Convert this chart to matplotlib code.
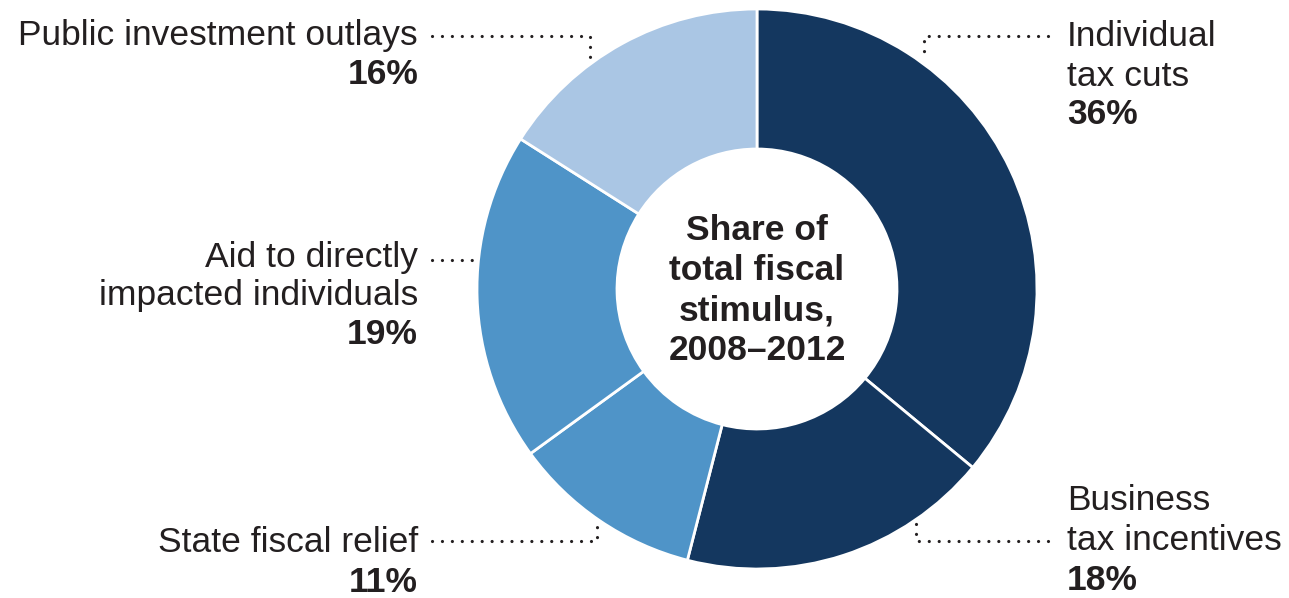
import matplotlib.pyplot as plt

# data
labels = ["Individual tax cuts", "Business tax incentives", "State fiscal relief",
          "Aid to directly impacted individuals", "Public investment outlays"]
shares = [36, 18, 11, 19, 16]
colors = ["#14375f", "#14375f", "#4f94c8", "#4f94c8", "#aac6e4"]

W, H = 1289, 598
plt.rcParams["font.family"] = ["Liberation Sans", "DejaVu Sans"]
ink = "#231f20"

fig = plt.figure(figsize=(W / 100, H / 100), dpi=100)
ax = fig.add_axes([0, 0, 1, 1])

def py(y):
    # pixel row -> data y
    return H - y

cx, cy, r = 757, py(289), 280
ax.pie(shares, colors=colors, startangle=90, counterclock=False,
       center=(cx, cy), radius=r,
       wedgeprops=dict(width=r * 0.5, edgecolor="white", linewidth=2))
ax.set_xlim(0, W)
ax.set_ylim(0, H)
ax.set_aspect("equal")
ax.axis("off")

# centre text
for i, line in enumerate(["Share of", "total fiscal", "stimulus,", "2008\u20132012"]):
    ax.text(cx, py(231 + i * 40), line, ha="center", va="center",
            fontsize=25.5, fontweight="bold", color=ink)

# labels
fs = 25.5
def label(x, ys, lines, pct, ha):
    for y, line in zip(ys, lines):
        ax.text(x, py(y), line, ha=ha, va="center", fontsize=fs, color=ink)
    ax.text(x, py(ys[-1] + 39), pct, ha=ha, va="center", fontsize=fs,
            fontweight="bold", color=ink)

label(1067, [36, 76], ["Individual", "tax cuts"], "36%", "left")
label(1067, [501, 541], ["Business", "tax incentives"], "18%", "left")
label(418, [543], ["State fiscal relief"], "11%", "right")
label(418, [257, 296], ["Aid to directly", "impacted individuals"], "19%", "right")
label(418, [36], ["Public investment outlays"], "16%", "right")

# dotted leader lines
dot = dict(color=ink, linewidth=2.3, dash_capstyle="round",
           linestyle=(0, (0.01, 3.1)))
leaders = [
    ([1048, 924, 924], [36, 36, 58]),
    ([1048, 916, 916], [541, 541, 521]),
    ([432, 597, 597], [541, 541, 521]),
    ([432, 476], [260, 260]),
    ([432, 590, 590], [36, 36, 58]),
]
for xs, ys in leaders:
    ax.plot(xs, [py(v) for v in ys], **dot)

fig.savefig("out.png", dpi=100)
